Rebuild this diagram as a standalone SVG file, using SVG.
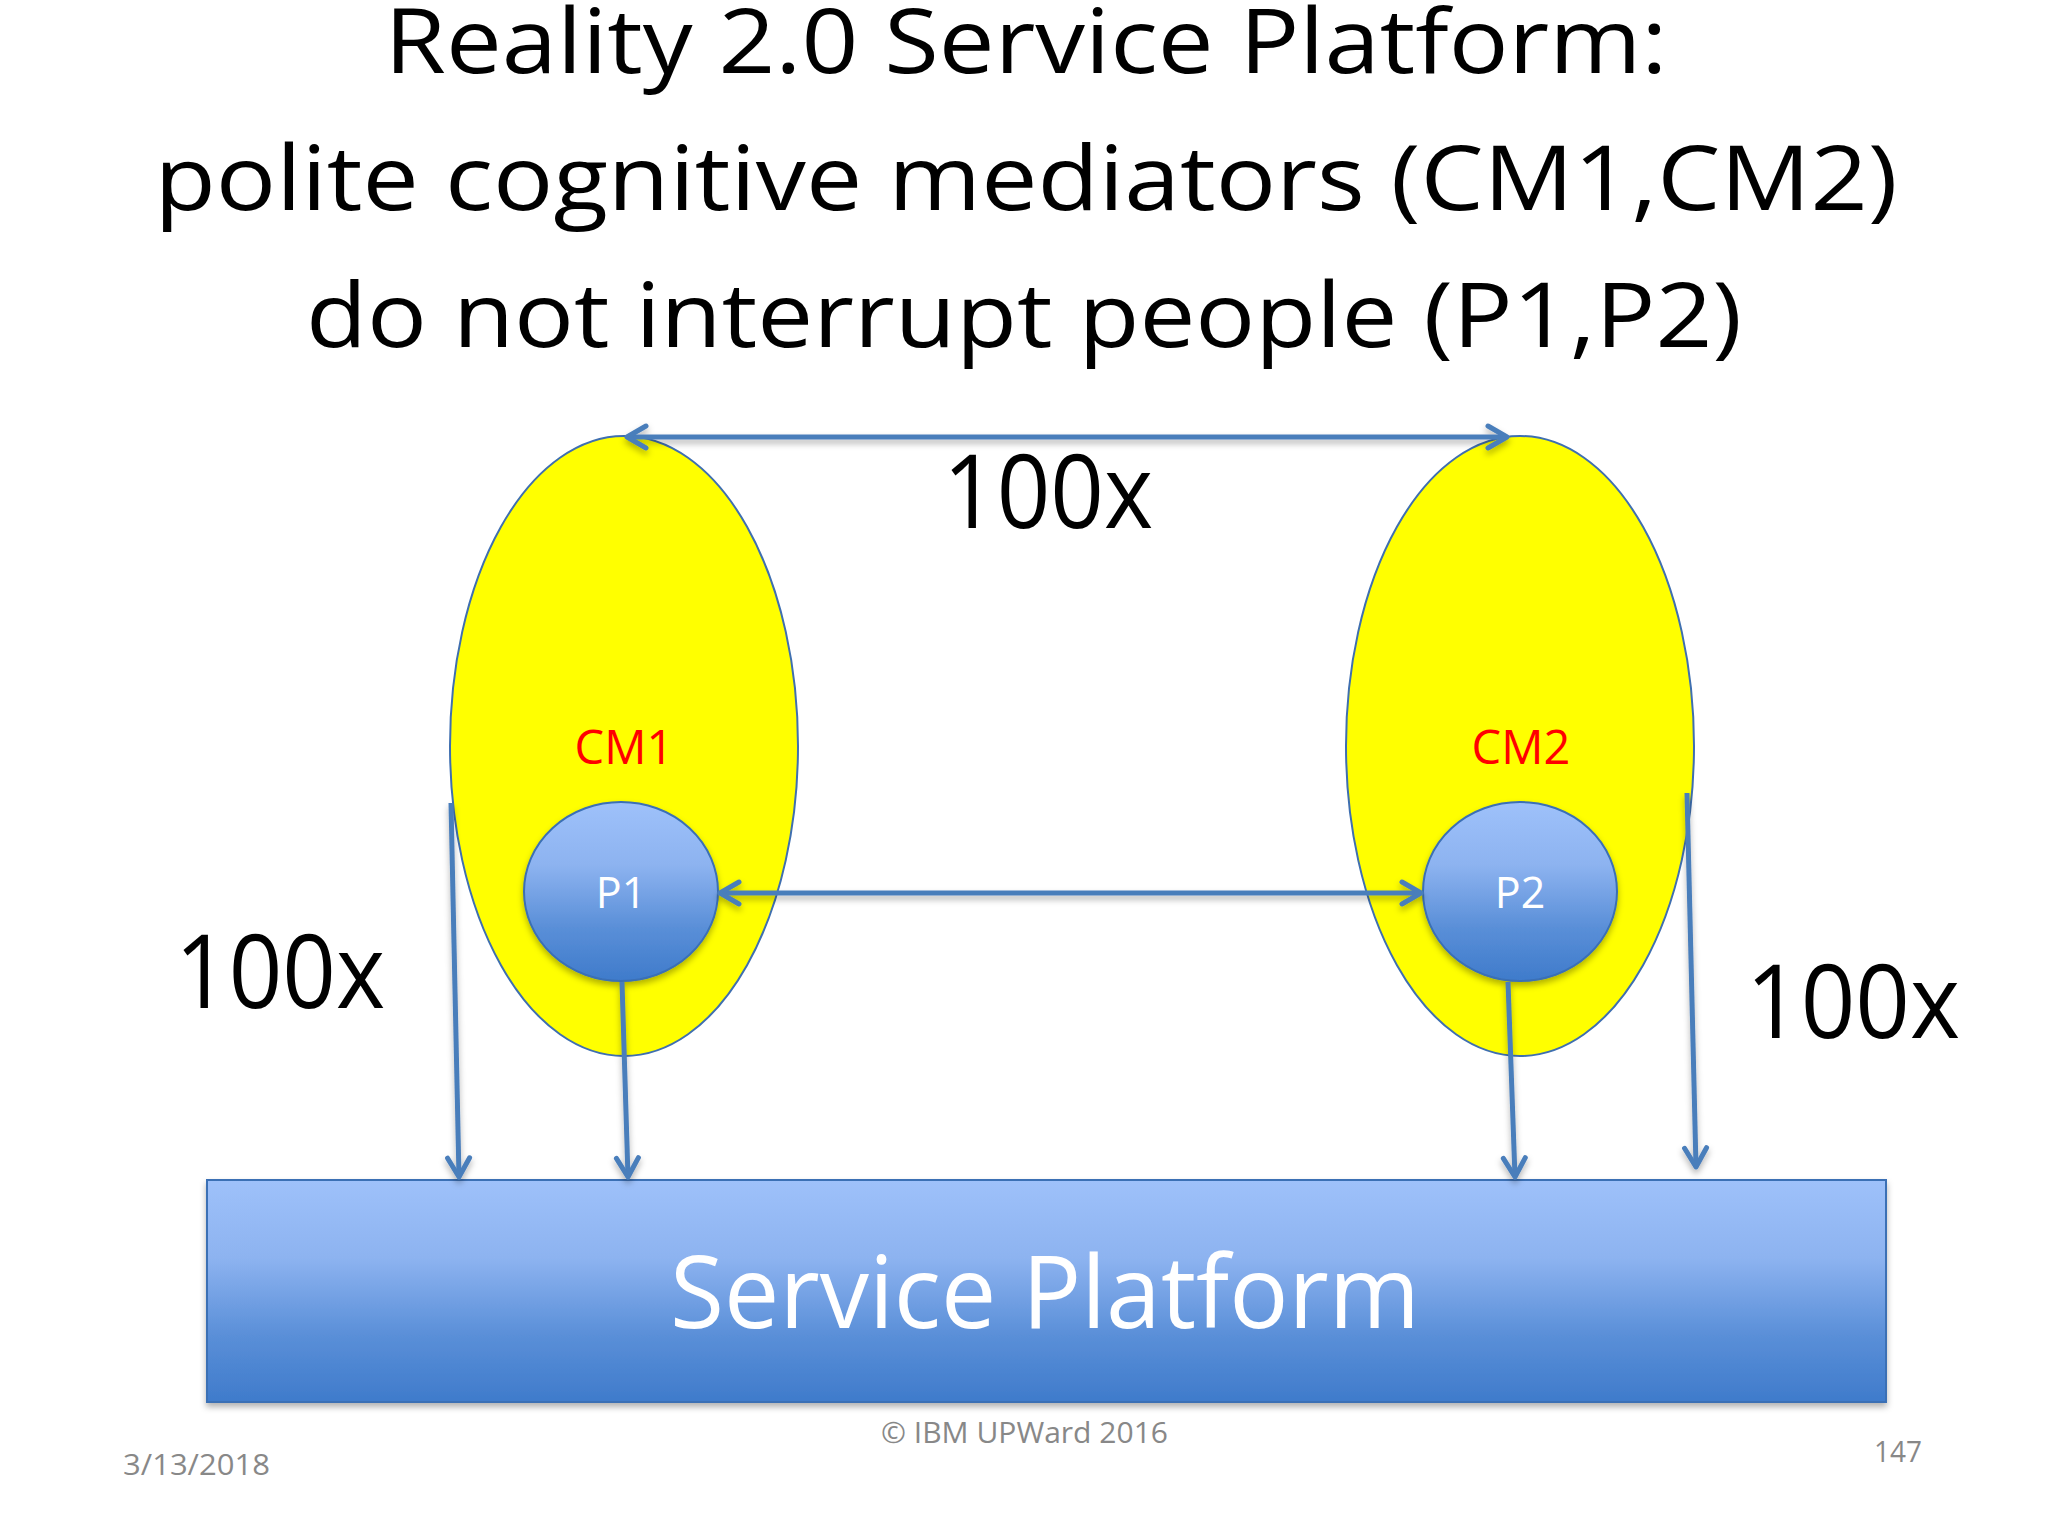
<svg xmlns="http://www.w3.org/2000/svg" width="2048" height="1536" viewBox="0 0 2048 1536">
<defs>
<style>
.title{font-family:"Open Sans","Liberation Sans",sans-serif;font-size:90px;fill:#000;text-anchor:middle}
.big{font-family:"Open Sans","Liberation Sans",sans-serif;font-size:102px;fill:#000}
.cm{font-family:"Open Sans","Liberation Sans",sans-serif;font-size:47px;fill:#ff0000;text-anchor:middle}
.p{font-family:"Open Sans","Liberation Sans",sans-serif;font-size:43px;fill:#fff;text-anchor:middle}
.sp{font-family:"Open Sans","Liberation Sans",sans-serif;font-size:100px;fill:#fff}
.foot{font-family:"Open Sans","Liberation Sans",sans-serif;font-size:30px;fill:#888}
.conn{stroke:#4a7ebb;stroke-width:5;fill:none;marker-end:url(#arr)}
.conn2{stroke:#4a7ebb;stroke-width:5;fill:none;marker-end:url(#arr);marker-start:url(#arr)}
</style>
<marker id="arr" markerUnits="userSpaceOnUse" viewBox="-24 -14 28 28" refX="0" refY="0" markerWidth="28" markerHeight="28" orient="auto-start-reverse">
<path d="M-19,-11 L0,0 L-19,11" fill="none" stroke="#4a7ebb" stroke-width="5" stroke-linecap="round" stroke-linejoin="round"/>
</marker>
<linearGradient id="blueg" x1="0" y1="0" x2="0" y2="1">
<stop offset="0" stop-color="#9ec1fa"/>
<stop offset="0.35" stop-color="#8db3f0"/>
<stop offset="0.7" stop-color="#5a8fd8"/>
<stop offset="1" stop-color="#3f7bcb"/>
</linearGradient>
<filter id="sh" x="-10%" y="-10%" width="120%" height="130%">
<feDropShadow dx="0" dy="4" stdDeviation="3" flood-color="#000" flood-opacity="0.3"/>
</filter>
</defs>
<rect width="2048" height="1536" fill="#fff"/>
<g id="title">
<text class="title" x="1026" y="73" textLength="1283" lengthAdjust="spacingAndGlyphs">Reality 2.0 Service Platform:</text>
<text class="title" x="1026" y="210" textLength="1743" lengthAdjust="spacingAndGlyphs">polite cognitive mediators (CM1,CM2)</text>
<text class="title" x="1024" y="347" textLength="1436" lengthAdjust="spacingAndGlyphs">do not interrupt people (P1,P2)</text>
</g>
<g id="cm1">
<ellipse cx="624" cy="746" rx="174" ry="310" fill="#ffff00" stroke="#3f6fb0" stroke-width="2"/>
<text class="cm" x="624" y="764">CM1</text>
</g>
<g id="cm2">
<ellipse cx="1520" cy="746" rx="174" ry="310" fill="#ffff00" stroke="#3f6fb0" stroke-width="2"/>
<text class="cm" x="1521" y="764">CM2</text>
</g>
<g id="p1">
<ellipse cx="621" cy="891.5" rx="97" ry="89.5" fill="url(#blueg)" stroke="#3a6fb5" stroke-width="2" filter="url(#sh)"/>
<text class="p" x="621" y="908">P1</text>
</g>
<g id="p2">
<ellipse cx="1520" cy="891.5" rx="97" ry="89.5" fill="url(#blueg)" stroke="#3a6fb5" stroke-width="2" filter="url(#sh)"/>
<text class="p" x="1520" y="908">P2</text>
</g>
<g id="service-platform">
<rect x="207" y="1180" width="1679" height="222" fill="url(#blueg)" stroke="#3a6fb5" stroke-width="2" filter="url(#sh)"/>
<text class="sp" x="670" y="1328" textLength="750" lengthAdjust="spacingAndGlyphs">Service Platform</text>
</g>
<g id="connectors" filter="url(#sh)">
<line class="conn2" x1="627" y1="437" x2="1507" y2="437"/>
<line class="conn2" x1="720" y1="893" x2="1421" y2="893"/>
<line class="conn" x1="451" y1="803" x2="459" y2="1177"/>
<line class="conn" x1="622" y1="982" x2="628" y2="1177"/>
<line class="conn" x1="1508" y1="982" x2="1515" y2="1177"/>
<line class="conn" x1="1687" y1="793" x2="1696" y2="1167"/>
</g>
<g id="labels">
<text class="big" x="943" y="528" textLength="210" lengthAdjust="spacingAndGlyphs">100x</text>
<text class="big" x="175" y="1008" textLength="210" lengthAdjust="spacingAndGlyphs">100x</text>
<text class="big" x="1746" y="1038" textLength="214" lengthAdjust="spacingAndGlyphs">100x</text>
</g>
<g id="footer">
<text class="foot" x="881" y="1443" textLength="287" lengthAdjust="spacingAndGlyphs">© IBM UPWard 2016</text>
<text class="foot" x="123" y="1475" textLength="147" lengthAdjust="spacingAndGlyphs">3/13/2018</text>
<text class="foot" x="1874" y="1462" textLength="48" lengthAdjust="spacingAndGlyphs">147</text>
</g>
</svg>
